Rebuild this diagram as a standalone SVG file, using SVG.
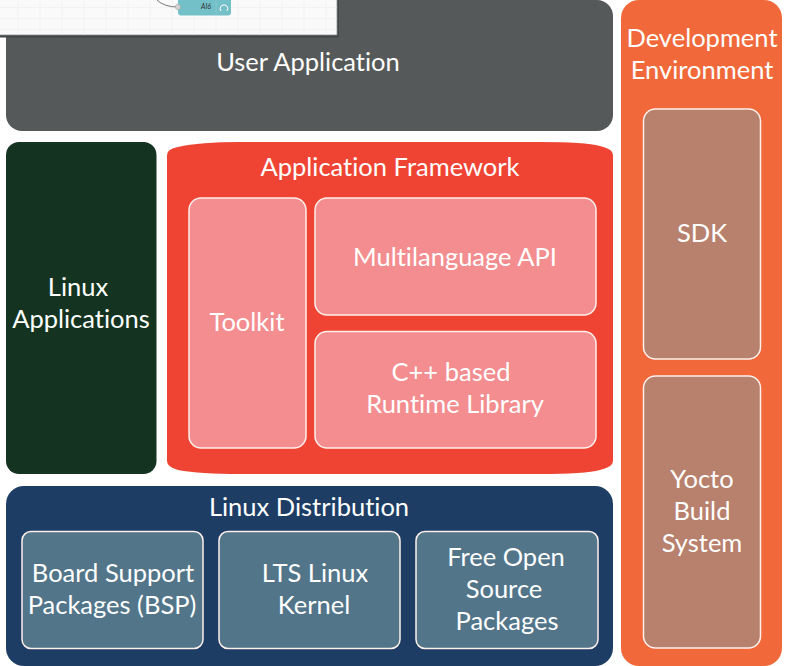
<svg xmlns="http://www.w3.org/2000/svg" width="789" height="666" viewBox="0 0 789 666">
<style>
text{font-family:Lato,"Open Sans",sans-serif;font-size:25.500px;font-variant-ligatures:none;fill:#fff;text-anchor:middle}
.in{stroke:#fdf0ec;stroke-width:1.5}
.pink{fill:#f38d8f}
.tan{fill:#b7816d}
.slate{fill:#52758a}
</style>
<rect width="789" height="666" fill="#fff"/>
<g id="user-application"><rect x="6" y="0" width="607" height="131" rx="16" fill="#555959"/><text x="308" y="71">User Application</text></g>
<g id="development-environment"><rect x="621" y="0" width="161" height="666" rx="18" fill="#f1693a"/><text x="702" y="47">Development</text><text x="702" y="79">Environment</text></g>
<g id="sdk"><rect class="in tan" x="643.500" y="109" width="117" height="250" rx="12"/><text x="702" y="242">SDK</text></g>
<g id="yocto"><rect class="in tan" x="643.500" y="376" width="117" height="272" rx="12"/><text x="702" y="488">Yocto</text><text x="702" y="520">Build</text><text x="702" y="552">System</text></g>
<g id="linux-applications"><rect x="6" y="142" width="150.500" height="332" rx="13" fill="#143421"/><text x="78" y="296">Linux</text><text x="81" y="328">Applications</text></g>
<g id="application-framework"><path d="M167 155Q167 149 178 147Q200 142 240 142H540Q585 142 600 146Q613 149 613 155V461Q613 467 600 470Q585 474 540 474H240Q200 474 178 470Q167 467 167 461Z" fill="#ef4433"/><text x="390" y="176">Application Framework</text></g>
<g id="toolkit"><rect class="in pink" x="189" y="198" width="117" height="250" rx="12"/><text x="247" y="331">Toolkit</text></g>
<g id="multilanguage-api"><rect class="in pink" x="315" y="198" width="281" height="117" rx="12"/><text x="455" y="266">Multilanguage API</text></g>
<g id="runtime-library"><rect class="in pink" x="315" y="331.500" width="281" height="116.500" rx="12"/><text x="451" y="381">C++ based</text><text x="455" y="413">Runtime Library</text></g>
<g id="linux-distribution"><rect x="6" y="486" width="607" height="180" rx="18" fill="#1d3d65"/><text x="309" y="516">Linux Distribution</text></g>
<g id="bsp"><rect class="in slate" x="22" y="531.500" width="181" height="117" rx="9"/><text x="113" y="582">Board Support</text><text x="112" y="614">Packages (BSP)</text></g>
<g id="lts-kernel"><rect class="in slate" x="219" y="531.500" width="181" height="117" rx="9"/><text x="315" y="582">LTS Linux</text><text x="314" y="614">Kernel</text></g>
<g id="foss"><rect class="in slate" x="416" y="531.500" width="182" height="117" rx="9"/><text x="506" y="566">Free Open</text><text x="504" y="598">Source</text><text x="507" y="630">Packages</text></g>
<g id="inset">
<rect x="0" y="0" width="339" height="37.500" fill="#444748"/>
<rect x="-1" y="-1" width="338" height="36" fill="#fafafa" stroke="#8a8c8c" stroke-width=".8"/>
<path d="M0 7.500H337M0 18.500H337M0 29.500H337M18 0V35M40 0V35M62 0V35M84 0V35M106 0V35M128 0V35M150 0V35M172 0V35M194 0V35M216 0V35M238 0V35M260 0V35M282 0V35M304 0V35M326 0V35" stroke="#efefef" stroke-width=".6" fill="none"/>
<path d="M157 0Q164 7 178 7" stroke="#777" stroke-width="1" fill="none"/>
<path d="M178 0H231V12Q231 15.500 228 15.500H181Q178 15.500 178 12Z" fill="#74c0c8"/>
<path d="M216 0V15.500" stroke="#8fced4" stroke-width=".6"/>
<circle cx="178" cy="7" r="2.700" fill="#d3d3d3" stroke="#999" stroke-width=".5"/>
<text x="206" y="9" style="font-size:7px;font-style:italic;fill:#333">AI6</text>
<path d="M221 11A3.800 3.800 0 1 1 227 11" stroke="#fff" stroke-width="1" fill="none"/>
</g>
</svg>
